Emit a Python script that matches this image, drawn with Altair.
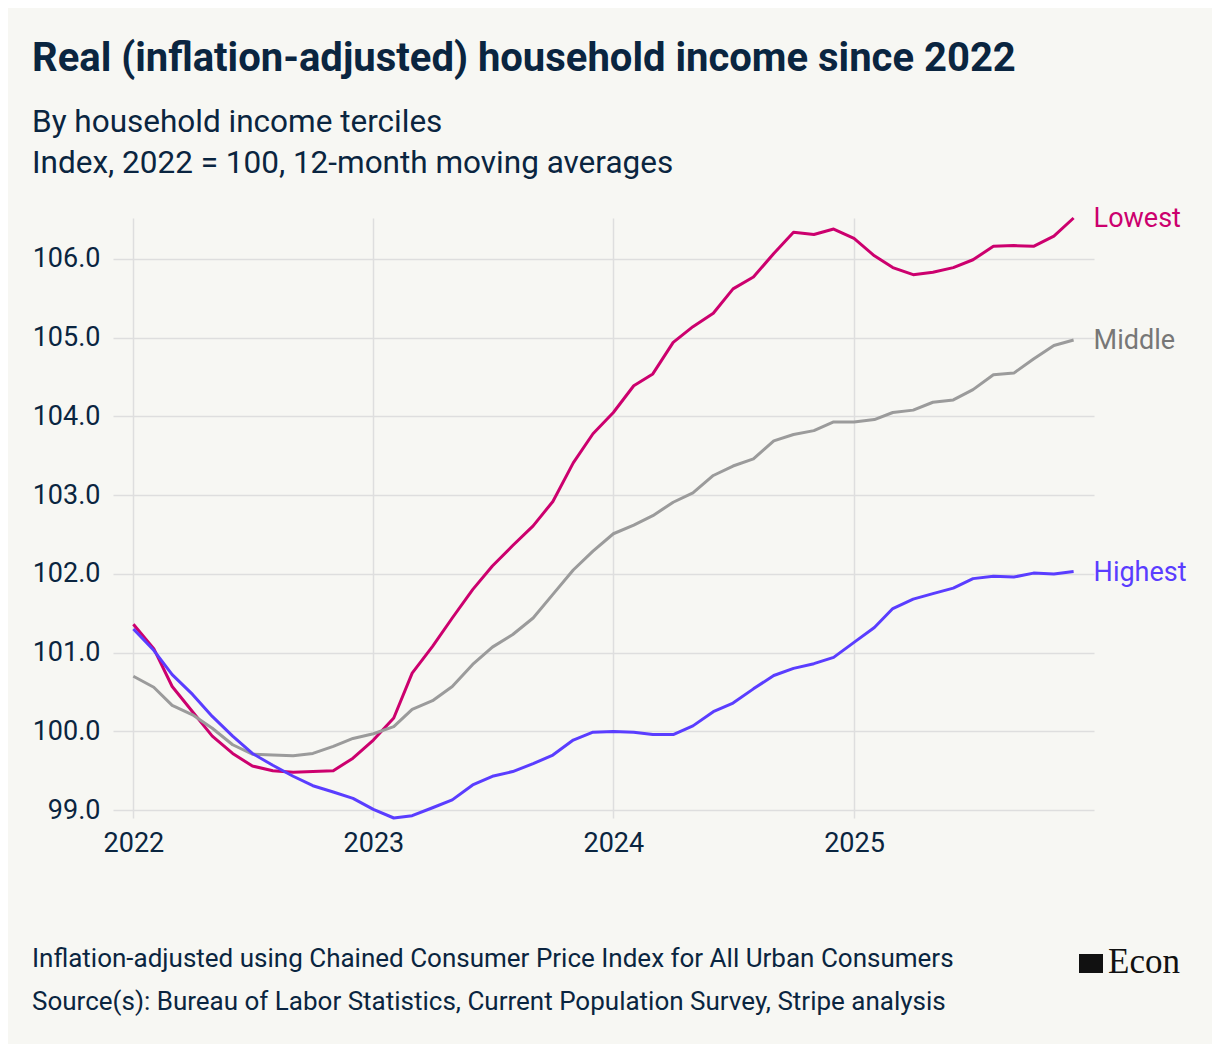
import altair as alt
import pandas as pd

# ---- data (monthly 2022-01 .. 2025-12) ----
months = pd.date_range("2022-01-01", "2025-12-01", freq="MS")
series_names = ["Lowest", "Middle", "Highest"]
lowest = [101.36, 101.05, 100.57, 100.25, 99.94, 99.72, 99.56, 99.50, 99.48, 99.49, 99.50, 99.66,
          99.89, 100.17, 100.74, 101.08, 101.44, 101.80, 102.10, 102.36, 102.61, 102.92, 103.41, 103.78,
          104.05, 104.39, 104.54, 104.94, 105.14, 105.31, 105.62, 105.77, 106.07, 106.34, 106.31, 106.38,
          106.26, 106.04, 105.89, 105.80, 105.83, 105.89, 105.99, 106.16, 106.17, 106.16, 106.29, 106.52]
middle = [100.70, 100.56, 100.33, 100.21, 100.04, 99.83, 99.71, 99.70, 99.69, 99.72, 99.81, 99.91,
          99.97, 100.06, 100.28, 100.39, 100.57, 100.85, 101.07, 101.23, 101.44, 101.74, 102.05, 102.29,
          102.51, 102.62, 102.74, 102.91, 103.03, 103.25, 103.37, 103.46, 103.69, 103.77, 103.82, 103.93,
          103.93, 103.96, 104.05, 104.08, 104.18, 104.21, 104.34, 104.53, 104.55, 104.73, 104.90, 104.97]
highest = [101.30, 101.03, 100.72, 100.47, 100.19, 99.94, 99.72, 99.57, 99.43, 99.31, 99.23, 99.15,
           99.01, 98.90, 98.93, 99.03, 99.13, 99.32, 99.43, 99.49, 99.59, 99.70, 99.89, 99.99,
           100.00, 99.99, 99.96, 99.96, 100.07, 100.25, 100.36, 100.54, 100.71, 100.80, 100.86, 100.94,
           101.13, 101.32, 101.56, 101.68, 101.75, 101.82, 101.94, 101.97, 101.96, 102.01, 102.00, 102.03]
y_ticks = [99, 100, 101, 102, 103, 104, 105, 106]
x_years = [2022, 2023, 2024, 2025]

title = "Real (inflation-adjusted) household income since 2022"
subtitle = ["By household income terciles", "Index, 2022 = 100, 12-month moving averages"]
footer = ["Inflation-adjusted using Chained Consumer Price Index for All Urban Consumers",
          "Source(s): Bureau of Labor Statistics, Current Population Survey, Stripe analysis"]

df = pd.concat([pd.DataFrame({"date": months, "value": vals, "series": name})
                for name, vals in zip(series_names, [lowest, middle, highest])], ignore_index=True)
last = df[df["date"] == months[-1]]

NAVY = "#0a2540"
FONT = "Roboto"
BG = "#f7f7f3"
line_colors = ["#cc006e", "#9b9b9b", "#5a3dff"]
label_colors = ["#cc006e", "#777777", "#5a3dff"]

x_enc = alt.X("date:T", title=None,
              scale=alt.Scale(domain=[alt.DateTime(year=2021, month=12, date=1),
                                      alt.DateTime(year=2026, month=1, date=1)]),
              axis=alt.Axis(values=[alt.DateTime(year=y, month=1, date=1) for y in x_years],
                            format="%Y", labelFontSize=27, labelColor=NAVY, labelFont=FONT,
                            labelPadding=12, ticks=False, domain=False, grid=True,
                            gridColor="#dedede", gridWidth=1.5))
y_enc = alt.Y("value:Q", title=None,
              scale=alt.Scale(domain=[98.9, 106.52], nice=False, zero=False),
              axis=alt.Axis(values=y_ticks, format=".1f", labelFontSize=27, labelColor=NAVY,
                            labelFont=FONT, labelPadding=13, ticks=False, domain=False,
                            grid=True, gridColor="#dedede", gridWidth=1.5))

lines = alt.Chart(df).mark_line(strokeWidth=3, strokeJoin="round", clip=False).encode(
    x=x_enc, y=y_enc,
    color=alt.Color("series:N", scale=alt.Scale(domain=series_names, range=line_colors), legend=None),
)

labels = alt.Chart(last).mark_text(align="left", baseline="middle", dx=20, dy=1, fontSize=27, font=FONT).encode(
    x="date:T", y="value:Q", text="series:N",
    color=alt.Color("series:N", scale=alt.Scale(domain=series_names, range=label_colors), legend=None),
)

one = pd.DataFrame({"k": [0]})


def txt(s, x, y, size, weight="normal", color=NAVY, font=FONT):
    return alt.Chart(one).mark_text(align="left", baseline="alphabetic", fontSize=size,
                                    fontWeight=weight, color=color, font=font).encode(
        x=alt.value(x), y=alt.value(y), text=alt.value(s))


title_l = txt(title, -81, -147, 40, weight="bold")
sub1 = txt(subtitle[0], -81, -86, 31.5)
sub2 = txt(subtitle[1], -81, -45, 31.5)
foot1 = txt(footer[0], -81, 749, 26)
foot2 = txt(footer[1], -81, 792, 26)
logo_text = txt("Econ", 995, 755, 35, color="#111111", font="Liberation Serif")
logo_box = alt.Chart(one).mark_rect(color="#111111").encode(
    x=alt.value(966), x2=alt.value(990), y=alt.value(736), y2=alt.value(755))

chart = alt.layer(lines, labels, title_l, sub1, sub2, foot1, foot2, logo_box, logo_text).resolve_scale(
    color="independent"
).properties(
    width=981, height=600,
    autosize=alt.AutoSizeParams(type="none"),
    padding={"left": 105, "top": 210, "right": 118, "bottom": 226},
    background=BG,
).configure_view(stroke=None)

chart.save("out.html", embed_options={"renderer": "svg", "actions": False})
